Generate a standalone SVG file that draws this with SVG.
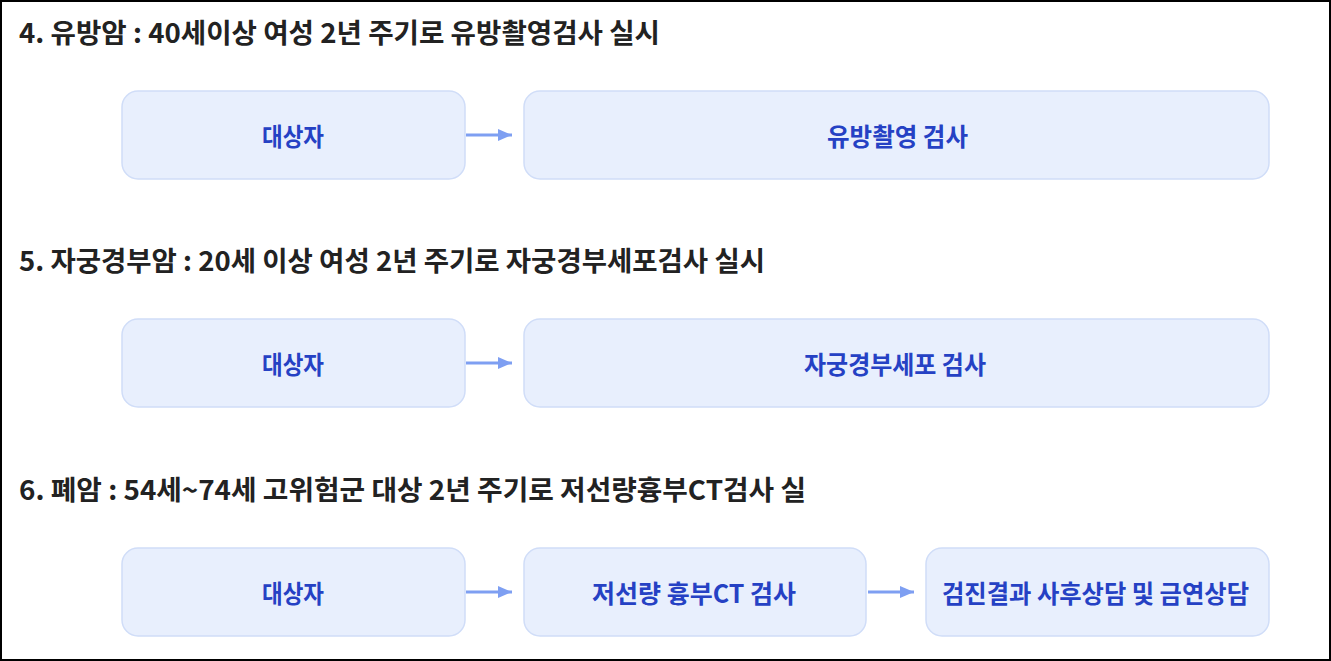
<svg xmlns="http://www.w3.org/2000/svg" width="1331" height="661" viewBox="0 0 1331 661">
<defs>
<style>
.title{font-family:"Noto Sans CJK KR","Noto Sans",sans-serif;font-weight:700;font-size:27px;fill:#222222}
.box{fill:#e8effd;stroke:#d0ddf8;stroke-width:1.5}
.lbl{font-family:"Noto Sans CJK KR","Noto Sans",sans-serif;font-weight:700;font-size:25px;fill:#2541c4;text-anchor:middle;dominant-baseline:central}
.conn{stroke:#7e9ff2;stroke-width:3;fill:none}
</style>
<marker id="ah" viewBox="0 0 14 12" refX="14" refY="6" markerWidth="14" markerHeight="12" markerUnits="userSpaceOnUse" orient="auto">
<path d="M0,0 L14,6 L0,12 Z" fill="#7e9ff2"/>
</marker>
</defs>
<rect x="0" y="0" width="1331" height="661" fill="#ffffff"/>
<rect x="1" y="1" width="1329" height="659" fill="none" stroke="#000" stroke-width="2"/>

<text class="title" x="19" y="43" textLength="641" lengthAdjust="spacingAndGlyphs">4. 유방암 : 40세이상 여성 2년 주기로 유방촬영검사 실시</text>
<text class="title" x="19" y="271" textLength="746" lengthAdjust="spacingAndGlyphs">5. 자궁경부암 : 20세 이상 여성 2년 주기로 자궁경부세포검사 실시</text>
<text class="title" x="19" y="500" textLength="787" lengthAdjust="spacingAndGlyphs">6. 폐암 : 54세~74세 고위험군 대상 2년 주기로 저선량흉부CT검사 실</text>

<g id="connectors">
<line class="conn" x1="466" y1="135" x2="512" y2="135" marker-end="url(#ah)"/>
<line class="conn" x1="466" y1="363" x2="512" y2="363" marker-end="url(#ah)"/>
<line class="conn" x1="466" y1="592" x2="512" y2="592" marker-end="url(#ah)"/>
<line class="conn" x1="868" y1="592" x2="914" y2="592" marker-end="url(#ah)"/>
</g>

<g id="n1a"><rect class="box" x="122" y="91" width="343" height="88" rx="16"/><text class="lbl" x="293" y="135" textLength="62" lengthAdjust="spacingAndGlyphs">대상자</text></g>
<g id="n1b"><rect class="box" x="524" y="91" width="745" height="88" rx="16"/><text class="lbl" x="897.5" y="135" textLength="141" lengthAdjust="spacingAndGlyphs">유방촬영 검사</text></g>
<g id="n2a"><rect class="box" x="122" y="319" width="343" height="88" rx="16"/><text class="lbl" x="293" y="363" textLength="62" lengthAdjust="spacingAndGlyphs">대상자</text></g>
<g id="n2b"><rect class="box" x="524" y="319" width="745" height="88" rx="16"/><text class="lbl" x="895" y="363" textLength="182" lengthAdjust="spacingAndGlyphs">자궁경부세포 검사</text></g>
<g id="n3a"><rect class="box" x="122" y="548" width="343" height="88" rx="16"/><text class="lbl" x="293" y="592" textLength="62" lengthAdjust="spacingAndGlyphs">대상자</text></g>
<g id="n3b"><rect class="box" x="524" y="548" width="342" height="88" rx="16"/><text class="lbl" x="694" y="592" textLength="204" lengthAdjust="spacingAndGlyphs">저선량 흉부CT 검사</text></g>
<g id="n3c"><rect class="box" x="926" y="548" width="343" height="88" rx="16"/><text class="lbl" x="1095.5" y="592" textLength="307" lengthAdjust="spacingAndGlyphs">검진결과 사후상담 및 금연상담</text></g>
</svg>
